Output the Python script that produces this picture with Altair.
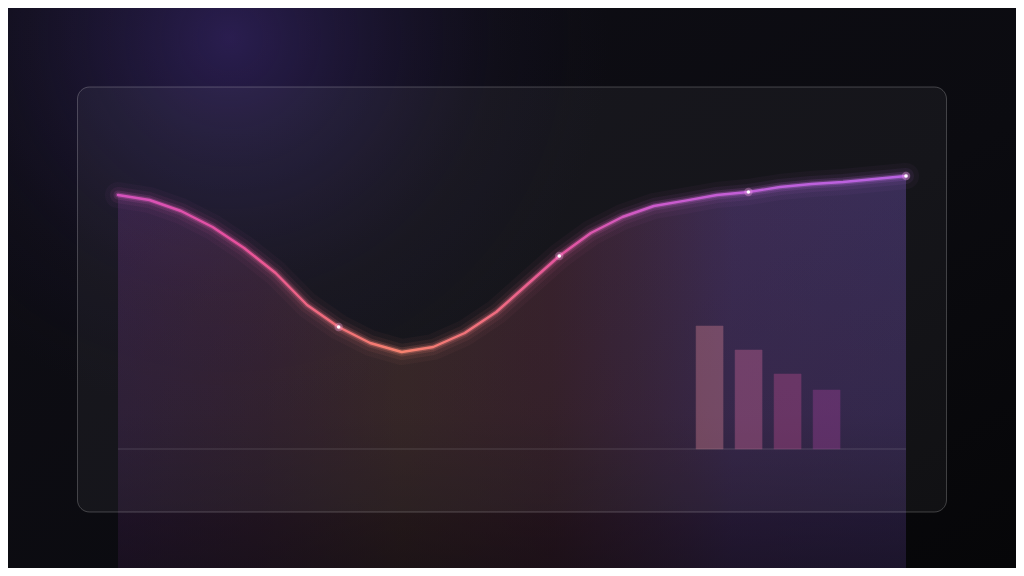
import altair as alt
import pandas as pd

# ---- data ----
idx = list(range(26))
values = [63.5, 62.25, 59.5, 55.5, 50.25, 44.0, 36.0, 30.5, 26.5, 24.25,
          25.5, 29.0, 34.25, 41.25, 48.25, 54.0, 58.0, 60.75, 62.1, 63.5,
          64.25, 65.5, 66.25, 66.75, 67.5, 68.25]
highlight_idx = [7, 14, 20, 25]
bar_slots = [0, 1, 2, 3]
bar_vals = [30.75, 24.75, 18.75, 14.75]
bar_colors = ["#d88496", "#d0689a", "#bc4d90", "#a4429a"]

line_df = pd.DataFrame({"i": idx, "v": values})
hl_df = line_df[line_df["i"].isin(highlight_idx)]
bar_df = pd.DataFrame({"slot": bar_slots, "v": bar_vals, "col": bar_colors})

W, H = 1008, 560
xs = alt.Scale(domain=[0, 25], range=[110, 898])
ys = alt.Scale(domain=[0, 100], range=[441, 41])
X = alt.X("i:Q", scale=xs, axis=None)
Y = alt.Y("v:Q", scale=ys, axis=None)

dummy = pd.DataFrame({"k": [0]})

# ---- background ----
bg = alt.Chart(dummy).mark_rect(
    fill=alt.Gradient(gradient="linear", x1=0, y1=0, x2=1, y2=1,
                      stops=[alt.GradientStop(color="#0f0e16", offset=0),
                             alt.GradientStop(color="#0b0b10", offset=0.6),
                             alt.GradientStop(color="#060608", offset=1)])
).encode(x=alt.value(0), x2=alt.value(W), y=alt.value(0), y2=alt.value(H))

GX, GY, GR = 222, 30, 380
glow = alt.Chart(dummy).mark_rect(
    fill=alt.Gradient(gradient="radial", x1=0.5, y1=0.5, r1=0, x2=0.5, y2=0.5, r2=0.5,
                      stops=[alt.GradientStop(color="rgba(60,40,118,0.6)", offset=0),
                             alt.GradientStop(color="rgba(50,34,100,0.3)", offset=0.4),
                             alt.GradientStop(color="rgba(40,28,80,0.1)", offset=0.7),
                             alt.GradientStop(color="rgba(30,20,60,0)", offset=1)])
).encode(x=alt.value(GX - GR), x2=alt.value(GX + GR), y=alt.value(GY - GR), y2=alt.value(GY + GR))

# ---- area under the line ----
area = alt.Chart(line_df).mark_area(
    interpolate="linear",
    fill=alt.Gradient(gradient="linear", x1=0, y1=0, x2=1, y2=0,
                      stops=[alt.GradientStop(color="rgba(125,58,150,0.26)", offset=0),
                             alt.GradientStop(color="rgba(150,70,120,0.24)", offset=0.18),
                             alt.GradientStop(color="rgba(175,100,82,0.24)", offset=0.36),
                             alt.GradientStop(color="rgba(170,70,100,0.24)", offset=0.55),
                             alt.GradientStop(color="rgba(140,85,205,0.32)", offset=0.78),
                             alt.GradientStop(color="rgba(130,90,215,0.32)", offset=1)])
).encode(x=X, y=Y, y2=alt.datum(-31))

fade = alt.Chart(line_df).mark_area(
    interpolate="linear",
    fill=alt.Gradient(gradient="linear", x1=0, y1=0, x2=0, y2=1,
                      stops=[alt.GradientStop(color="rgba(12,10,16,0)", offset=0),
                             alt.GradientStop(color="rgba(12,10,16,0.15)", offset=0.6),
                             alt.GradientStop(color="rgba(12,10,16,0.55)", offset=1)])
).encode(x=X, y=Y, y2=alt.datum(-31))

# ---- panel ----
panel = alt.Chart(dummy).mark_rect(
    cornerRadius=12, fill="#ffffff", fillOpacity=0.045,
    stroke="#ffffff", strokeOpacity=0.22, strokeWidth=1
).encode(x=alt.value(69.5), x2=alt.value(938.5), y=alt.value(79), y2=alt.value(504))

# ---- baseline ----
rule_df = pd.DataFrame({"a": [idx[0]], "b": [idx[-1]], "z": [0]})
base = alt.Chart(rule_df).mark_rule(color="#ffffff", opacity=0.15, strokeWidth=1).encode(
    x=alt.X("a:Q", scale=xs, axis=None), x2="b:Q", y=alt.Y("z:Q", scale=ys, axis=None))

# ---- bars (placed in the right part of the index axis) ----
bars = alt.Chart(bar_df).transform_calculate(
    x0="18.34 + datum.slot * 1.2373", x1="18.34 + datum.slot * 1.2373 + 0.8566", z="0"
).mark_bar(opacity=0.38, strokeWidth=1, strokeOpacity=0.5).encode(
    x=alt.X("x0:Q", scale=xs, axis=None), x2="x1:Q",
    y=Y, y2="z:Q",
    fill=alt.Fill("col:N", scale=None, legend=None),
    stroke=alt.Stroke("col:N", scale=None, legend=None),
)

# ---- glowing line ----
line_grad = alt.Gradient(gradient="linear", x1=0, y1=0, x2=1, y2=0,
                         stops=[alt.GradientStop(color="#d452bd", offset=0),
                                alt.GradientStop(color="#e8509e", offset=0.15),
                                alt.GradientStop(color="#f27078", offset=0.28),
                                alt.GradientStop(color="#f6826e", offset=0.36),
                                alt.GradientStop(color="#f06c80", offset=0.48),
                                alt.GradientStop(color="#e4559e", offset=0.56),
                                alt.GradientStop(color="#cc5acc", offset=0.68),
                                alt.GradientStop(color="#c060da", offset=0.82),
                                alt.GradientStop(color="#b862e2", offset=1)])

def line_layer(w, op):
    return alt.Chart(line_df).mark_line(stroke=line_grad, strokeWidth=w, opacity=op,
                                        strokeJoin="round", strokeCap="round").encode(x=X, y=Y)

glows = [line_layer(26, 0.04), line_layer(16, 0.07), line_layer(9, 0.14), line_layer(5, 0.3)]
core = line_layer(2.4, 1.0)

dot_glow = alt.Chart(hl_df).mark_circle(color="#ffb0f0", size=70, opacity=0.3).encode(x=X, y=Y)
dots = alt.Chart(hl_df).mark_circle(color="#ffffff", size=13, opacity=1).encode(x=X, y=Y)

chart = alt.layer(bg, glow, area, fade, *glows, panel, base, bars, core, dot_glow, dots).properties(
    width=W, height=H, autosize=alt.AutoSizeParams(type="none"), padding=0,
    background="#0c0b11"
).configure_view(strokeWidth=0)

chart.save("out.html", embed_options={"renderer": "svg", "actions": False})
